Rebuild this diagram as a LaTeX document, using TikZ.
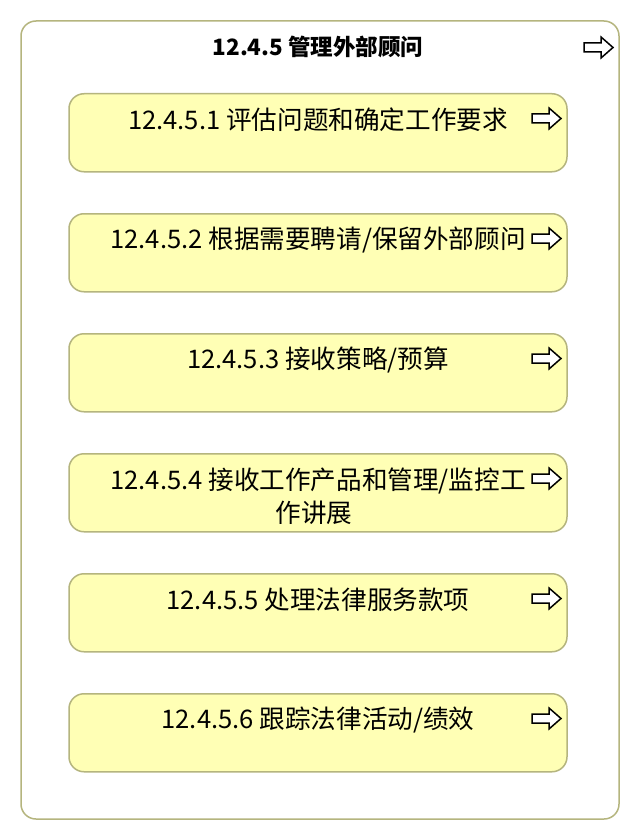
\documentclass[tikz,border=0pt]{standalone}
\usepackage{fontspec}
\setmainfont{Noto Sans CJK SC}
\begin{document}
\begin{tikzpicture}[x=1pt,y=-1pt,
  outerbox/.style={draw=boxline,line width=1.5pt,rounded corners=15pt,fill=white},
  procbox/.style={draw=boxline,line width=1.5pt,rounded corners=15pt,fill=procfill,minimum width=498pt,minimum height=78pt,inner sep=0pt},
  proctext/.style={font=\fontsize{25.6}{33}\selectfont,text=black,inner sep=0pt,align=center},
  titletext/.style={font=\bfseries\fontsize{22.5}{26}\selectfont,text=black,inner sep=0pt},
  hollowarrow/.pic={\draw[line width=1.5pt,line join=miter,fill=white] (-14.5,-4.5) -- (2.5,-4.5) -- (2.5,-10.5) -- (14.5,0) -- (2.5,10.5) -- (2.5,4.5) -- (-14.5,4.5) -- cycle;}
]
\definecolor{boxline}{RGB}{181,181,126}
\definecolor{procfill}{RGB}{255,255,181}
\useasboundingbox (0,0) rectangle (640,840);
\fill[white] (0,0) rectangle (640,840);
\draw[outerbox] (21,21) rectangle (619,819);
\node[titletext] (title) at (318,47) {12.4.5 管理外部顾问};
\pic at (598.5,47.5) {hollowarrow};

\foreach \i/\t in {1/93,2/213,3/333,4/453,5/573,6/693}{
  \node[procbox,anchor=north] (p\i) at (318,\t) {};
  \pic at (546.5,\t+25.5) {hollowarrow};
}
\node[proctext] (t1) at ([yshift=-27pt]p1.north) {12.4.5.1 评估问题和确定工作要求};
\node[proctext] (t2) at ([yshift=-27pt]p2.north) {12.4.5.2 根据需要聘请/保留外部顾问};
\node[proctext] (t3) at ([yshift=-27pt]p3.north) {12.4.5.3 接收策略/预算};
\node[proctext] (t4) at ([yshift=-43pt]p4.north) {12.4.5.4 接收工作产品和管理/监控工\\\hspace*{-8pt}作讲展};
\node[proctext] (t5) at ([yshift=-27pt]p5.north) {12.4.5.5 处理法律服务款项};
\node[proctext] (t6) at ([yshift=-27pt]p6.north) {12.4.5.6 跟踪法律活动/绩效};
\end{tikzpicture}
\end{document}
